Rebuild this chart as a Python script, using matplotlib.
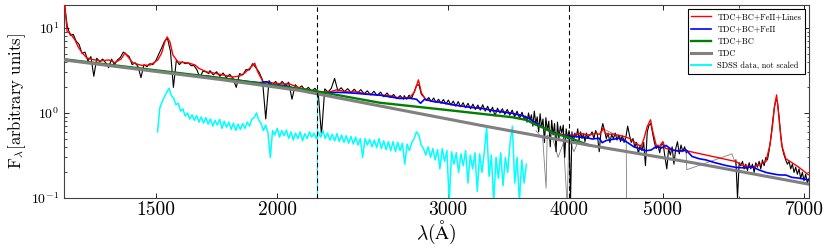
import numpy as np
import matplotlib
matplotlib.use("Agg")
import matplotlib.pyplot as plt
from matplotlib.ticker import FixedLocator, FixedFormatter, NullFormatter

plt.rcParams['font.family'] = ['cmr10', 'DejaVu Serif']
plt.rcParams['mathtext.fontset'] = 'cm'
plt.rcParams['axes.unicode_minus'] = False
plt.rcParams['axes.formatter.use_mathtext'] = True

# ---------------- data ----------------
# full model: TDC+BC+FeII+Lines
red_wl = [1190, 1205, 1210, 1214, 1222, 1237, 1246, 1258, 1272, 1290,
          1313, 1340, 1360, 1380, 1393, 1403, 1420, 1450, 1480, 1506,
          1520, 1531, 1540, 1550, 1561, 1580, 1620, 1645, 1660, 1692,
          1717, 1757, 1800, 1830, 1852, 1880, 1896, 1910, 1933, 1965,
          2012, 2060, 2110, 2160, 2197, 2265, 2304, 2360, 2416, 2475,
          2551, 2612, 2675, 2739, 2772, 2798, 2818, 2845, 2893, 2962,
          3034, 3107, 3181, 3258, 3336, 3416, 3498, 3582, 3642, 3703,
          3792, 3883, 3976, 4072, 4101, 4199, 4270, 4300, 4325, 4340,
          4356, 4380, 4434, 4541, 4617, 4695, 4750, 4784, 4819, 4858,
          4880, 4923, 4958, 5003, 5030, 5113, 5199, 5286, 5952, 6037,
          6182, 6285, 6391, 6452, 6490, 6520, 6555, 6575, 6600, 6635,
          6700, 6800, 6911, 7060, 7100]
red_val = [40, 25, 14, 9.0, 8.7, 7.2, 6.0, 5.1, 4.44, 4.25,
           4.09, 4.2, 3.92, 4.3, 5.08, 4.56, 3.87, 3.62, 3.67, 4.2,
           5.08, 6.84, 7.84, 6.84, 4.81, 3.98, 3.87, 3.67, 3.35, 3.04,
           2.96, 2.8, 2.65, 2.72, 2.96, 3.48, 3.85, 3.04, 2.35, 2.28,
           2.2, 2.19, 1.97, 1.87, 1.77, 1.77, 1.87, 1.77, 1.77, 1.67,
           1.63, 1.6, 1.5, 1.5, 1.77, 2.45, 1.72, 1.45, 1.37, 1.32,
           1.25, 1.2, 1.16, 1.13, 1.07, 1.03, 0.99, 0.93, 0.86, 0.76,
           0.645, 0.575, 0.55, 0.55, 0.577, 0.551, 0.577, 0.56, 0.6, 0.665,
           0.6, 0.56, 0.566, 0.536, 0.504, 0.44, 0.40, 0.504, 0.69, 0.83,
           0.63, 0.42, 0.40, 0.46, 0.385, 0.367, 0.36, 0.36, 0.268, 0.245,
           0.23, 0.245, 0.268, 0.42, 0.68, 1.15, 1.63, 1.2, 0.75, 0.42,
           0.29, 0.26, 0.23, 0.19, 0.185]

# TDC+BC+FeII
blue_wl = [1692, 1745, 1800, 1860, 1919, 1951, 1979, 2046, 2110, 2160,
           2197, 2249, 2303, 2359, 2415, 2474, 2551, 2612, 2675, 2739,
           2785, 2812, 2839, 2893, 2962, 3034, 3107, 3181, 3258, 3336,
           3416, 3498, 3582, 3642, 3703, 3792, 3883, 3976, 4072, 4199,
           4229, 4300, 4331, 4372, 4434, 4509, 4585, 4672, 4807, 4865,
           4923, 4981, 5041, 5113, 5199, 5286, 5362, 5451, 5543, 5649,
           5812, 5952, 6095, 6182, 6285, 6391, 6482, 6591, 6702, 6797,
           6911, 7060, 7100]
blue_val = [2.72, 2.58, 2.48, 2.35, 2.27, 2.33, 2.14, 2.08, 1.87, 1.78,
            1.70, 1.73, 1.75, 1.73, 1.70, 1.66, 1.62, 1.55, 1.48, 1.49,
            1.45, 1.3, 1.45, 1.37, 1.32, 1.25, 1.2, 1.16, 1.13, 1.07,
            1.03, 0.99, 0.93, 0.86, 0.757, 0.64, 0.57, 0.54, 0.527, 0.504,
            0.494, 0.504, 0.447, 0.475, 0.488, 0.504, 0.46, 0.398, 0.36, 0.367,
            0.403, 0.385, 0.415, 0.367, 0.354, 0.367, 0.308, 0.29, 0.28, 0.262,
            0.241, 0.229, 0.226, 0.234, 0.214, 0.2, 0.193, 0.187, 0.186, 0.175,
            0.171, 0.164, 0.162]

# TDC+BC
green_wl = [1190, 1205, 1745, 2197, 2551, 2991, 3498, 3617, 3703, 3792, 3846, 3976, 4199]
green_val = [4.38, 4.28, 2.58, 1.8, 1.32, 1.085, 0.89, 0.827, 0.722, 0.648, 0.582, 0.526, 0.417]

# TDC
tdc_wl = [1190, 1205, 1745, 2110, 2612, 3234, 4199, 5390, 7063, 7100]
tdc_val = [4.3, 4.20, 2.48, 1.84, 1.15, 0.72, 0.417, 0.258, 0.146, 0.144]

# observed spectrum (black), pieces: (first wavelength, last wavelength, fluxes)
obs_a_range = (1206, 1700)
obs_a_flux = [19, 10.5, 8.2, 8.4, 7.0, 6.4, 5.0, 5.2, 4.1, 4.6,
              2.7, 4.4, 4.0, 4.3, 3.9, 3.4, 4.3, 3.7, 4.2, 4.5,
              5.2, 4.9, 4.6, 3.7, 3.9, 3.5, 2.6, 3.7, 3.5, 3.8,
              3.7, 4.1, 4.9, 5.8, 7.0, 7.5, 5.3, 2.0, 4.2, 3.7,
              4.0, 3.8, 3.9, 3.6, 3.6, 3.2, 2.6, 3.1, 3.05, 2.9]
obs_b_range = (1705, 2700)
obs_b_flux = [3.15, 2.8, 3.05, 2.7, 2.95, 2.6, 2.85, 2.55, 2.0, 2.9,
              2.8, 3.25, 3.2, 3.8, 3.4, 3.0, 2.45, 0.85, 2.4, 2.12,
              2.35, 2.1, 2.35, 2.12, 2.3, 1.45, 2.15, 1.95, 2.08, 1.85,
              2.0, 1.8, 1.95, 1.75, 0.55, 1.92, 1.76, 1.95, 2.55, 1.82,
              1.98, 1.78, 1.93, 1.74, 1.9, 1.72, 1.88, 1.68, 1.82, 1.63,
              1.8, 1.6, 1.76, 1.55, 1.72, 1.52, 1.65, 1.47, 1.6, 1.45]
obs_c_range = (2705, 3600)
obs_c_flux = [1.6, 1.45, 1.62, 1.48, 1.75, 2.1, 2.15, 1.65, 1.55, 1.4,
              1.52, 1.36, 1.5, 1.33, 1.45, 1.3, 1.44, 1.27, 1.42, 1.24,
              1.38, 1.2, 1.36, 1.18, 1.32, 1.15, 1.3, 1.12, 1.27, 1.1,
              1.24, 1.08, 1.25, 1.05, 1.2, 1.02, 1.17, 0.92, 1.14, 1.0,
              1.12, 0.96, 1.1, 0.94, 1.08, 0.9, 1.05, 0.86, 1.02, 0.84]
obs_d_range = (3610, 4200)
obs_d_flux = [0.92, 0.78, 1.0, 0.82, 0.95, 0.7, 1.05, 0.75, 0.9, 0.6,
              0.98, 0.68, 0.85, 0.45, 0.88, 0.62, 0.8, 0.4, 0.82, 0.55,
              0.75, 0.35, 0.78, 0.5, 0.7, 0.58, 0.72, 0.3, 0.65, 0.5,
              0.62, 0.09, 0.6, 0.45, 0.58, 0.52, 0.65, 0.48, 0.6, 0.5,
              0.57, 0.46, 0.58, 0.5, 0.55]
obs_e_range = (4210, 5290)
obs_e_flux = [0.55, 0.6, 0.5, 0.62, 0.55, 0.35, 0.6, 0.75, 0.62, 0.5,
              0.58, 0.45, 0.56, 0.5, 0.58, 0.48, 0.55, 0.46, 0.54, 0.45,
              0.52, 0.7, 0.55, 0.45, 0.5, 0.4, 0.45, 0.33, 0.42, 0.36,
              0.45, 0.24, 0.6, 0.72, 0.75, 0.58, 0.45, 0.38, 0.42, 0.34,
              0.44, 0.42, 0.3, 0.22, 0.38, 0.32, 0.4, 0.25, 0.38, 0.46,
              0.33, 0.42, 0.35, 0.4, 0.34]
obs_f_range = (5950, 7080)
obs_f_flux = [0.28, 0.1, 0.26, 0.24, 0.27, 0.22, 0.25, 0.21, 0.26, 0.22,
              0.25, 0.2, 0.26, 0.23, 0.27, 0.22, 0.28, 0.24, 0.3, 0.28,
              0.36, 0.5, 0.75, 1.1, 1.45, 1.35, 0.9, 0.55, 0.38, 0.32,
              0.28, 0.25, 0.27, 0.22, 0.25, 0.2, 0.23, 0.19, 0.22, 0.17,
              0.2, 0.16, 0.19, 0.15, 0.17]

# thin grey data pieces
thin_a_wl = [3700, 3760, 3790, 3800, 3850, 3900, 3950, 3985, 4000, 4050, 4100]
thin_a_val = [0.62, 0.5, 0.13, 0.55, 0.5, 0.3, 0.45, 0.08, 0.5, 0.35, 0.5]
thin_b_wl = [4330, 4585, 4590]
thin_b_val = [0.66, 0.48, 0.08]
thin_c_wl = [5286, 5295, 5895, 5950]
thin_c_val = [0.36, 0.215, 0.33, 0.25]

# SDSS spectrum (cyan)
sdss_a_range = (1505, 2195)
sdss_a_flux = [0.6, 1.15, 1.35, 1.55, 1.75, 1.95, 1.6, 1.5, 1.25, 1.3,
               1.05, 1.12, 0.92, 1.0, 0.85, 0.95, 0.82, 0.93, 0.78, 0.9,
               0.76, 0.88, 0.74, 0.85, 0.7, 0.82, 0.72, 0.84, 0.66, 0.8,
               0.68, 0.78, 0.64, 0.76, 0.62, 0.74, 0.64, 0.75, 0.66, 0.78,
               0.7, 0.85, 0.88, 1.0, 0.82, 0.75, 0.62, 0.72, 0.58, 0.3,
               0.62, 0.55, 0.66, 0.52, 0.62, 0.54, 0.63, 0.5, 0.6, 0.48,
               0.58, 0.5, 0.6, 0.47, 0.57, 0.5, 0.6, 0.52, 0.58, 0.5]
sdss_b_range = (2205, 3617)
sdss_b_flux = [0.6, 0.52, 0.62, 0.5, 0.58, 0.48, 0.56, 0.47, 0.57, 0.46,
               0.55, 0.45, 0.54, 0.44, 0.53, 0.43, 0.52, 0.42, 0.5, 0.3,
               0.5, 0.42, 0.49, 0.4, 0.48, 0.39, 0.5, 0.38, 0.47, 0.37,
               0.46, 0.36, 0.46, 0.35, 0.45, 0.36, 0.44, 0.25, 0.43, 0.36,
               0.45, 0.5, 0.6, 0.55, 0.42, 0.38, 0.32, 0.4, 0.3, 0.38,
               0.28, 0.37, 0.22, 0.38, 0.27, 0.36, 0.09, 0.35, 0.25, 0.34,
               0.2, 0.33, 0.24, 0.36, 0.15, 0.32, 0.22, 0.34, 0.12, 0.33,
               0.2, 0.35, 0.68, 0.18, 0.32, 0.09, 0.3, 0.17, 0.34, 0.14,
               0.3, 0.2, 0.45, 0.7, 0.15, 0.3, 0.09, 0.28, 0.15, 0.25]

markers_wl = [2200, 4000]
x_ticks = [1500, 2000, 3000, 4000, 5000, 7000]
x_minor = [6000]

labels = ["TDC+BC+FeII+Lines", "TDC+BC+FeII", "TDC+BC", "TDC", "SDSS data, not scaled"]


def piece(rng, flux):
    return np.geomspace(rng[0], rng[1], len(flux)), np.array(flux)

# ---------------- figure ----------------
fig = plt.figure(figsize=(8.3, 2.49), dpi=100)
ax = fig.add_axes([64 / 830, 1 - 198 / 249, (809 - 64) / 830, (198 - 5) / 249])
ax.set_xscale('log')
ax.set_yscale('log')

for wl, v in [(thin_a_wl, thin_a_val), (thin_b_wl, thin_b_val), (thin_c_wl, thin_c_val)]:
    ax.plot(wl, v, color='0.5', lw=0.6, zorder=1)

obs_main = [piece(r, f) for r, f in [(obs_a_range, obs_a_flux), (obs_b_range, obs_b_flux),
                                     (obs_c_range, obs_c_flux), (obs_d_range, obs_d_flux),
                                     (obs_e_range, obs_e_flux)]]
ow = np.concatenate([p[0] for p in obs_main])
of = np.concatenate([p[1] for p in obs_main])
ax.plot(ow, of, color='k', lw=0.8, zorder=2)
fw, ff = piece(obs_f_range, obs_f_flux)
ax.plot(fw, ff, color='k', lw=0.8, zorder=2)

ax.plot(red_wl, red_val, color='red', lw=1.0, label=labels[0], zorder=3)
ax.plot(blue_wl, blue_val, color='blue', lw=1.2, label=labels[1], zorder=4)
ax.plot(green_wl, green_val, color='green', lw=1.7, label=labels[2], zorder=5)
ax.plot(tdc_wl, tdc_val, color='gray', lw=2.2, label=labels[3], zorder=6)

sa_w, sa_f = piece(sdss_a_range, sdss_a_flux)
sb_w, sb_f = piece(sdss_b_range, sdss_b_flux)
ax.plot(np.concatenate([sa_w, sb_w]), np.concatenate([sa_f, sb_f]), color='cyan', lw=1.1,
        label=labels[4], zorder=3)

ax.axvline(markers_wl[0], ymin=0, ymax=0.53, color='cyan', lw=0.8, ls=(3.5, (4, 3)), zorder=7)
for m in markers_wl:
    ax.axvline(m, color='k', lw=0.8, ls=(0, (4, 3)), zorder=7)

ax.set_xlim(1205, 7080)
ax.set_ylim(0.1, 18.6)

ax.xaxis.set_major_locator(FixedLocator(x_ticks))
ax.xaxis.set_major_formatter(FixedFormatter([str(t) for t in x_ticks]))
ax.xaxis.set_minor_locator(FixedLocator(x_minor))
ax.xaxis.set_minor_formatter(NullFormatter())
ax.yaxis.set_minor_formatter(NullFormatter())

ax.tick_params(which='both', direction='in', top=True, right=True)
ax.tick_params(which='major', length=3.5, width=0.6)
ax.tick_params(which='minor', length=1.8, width=0.5)
ax.tick_params(axis='x', labelsize=14, pad=2)
ax.tick_params(axis='y', labelsize=10)
for s in ax.spines.values():
    s.set_color('0.25')
    s.set_linewidth(0.8)

ax.set_xlabel(r'$\lambda(\mathrm{\AA})$', fontsize=14, labelpad=0)
ax.set_ylabel(r'$\mathrm{F}_\lambda$[arbitrary units]', fontsize=12, labelpad=2)

leg = ax.legend(loc='upper right', fontsize=6, frameon=True, fancybox=False,
                edgecolor='k', framealpha=1, borderaxespad=0.5, handlelength=2.4,
                labelspacing=0.45, borderpad=0.45, handletextpad=0.7)
leg.get_frame().set_linewidth(0.8)
leg.get_lines()[4].set_linewidth(1.4)

fig.savefig('out.png', dpi=100)
